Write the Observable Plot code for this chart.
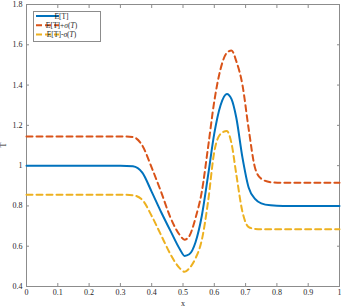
<!DOCTYPE html>
<html><head><meta charset="utf-8">
<script src="https://cdn.jsdelivr.net/npm/d3@7"></script>
<script src="https://cdn.jsdelivr.net/npm/@observablehq/plot@0.6"></script>
<style>body{margin:0;background:#fff;} #c{position:relative;width:341px;height:307px;}</style>
</head><body><div id="c"></div>
<script>
const xs    = [0, 0.30, 0.34, 0.37, 0.40, 0.43, 0.46, 0.49, 0.505, 0.52, 0.54, 0.56, 0.58, 0.60, 0.62, 0.64, 0.655, 0.67, 0.69, 0.71, 0.73, 0.75, 0.78, 0.82, 1.0];
const mean  = [1.0, 1.0, 0.997, 0.965, 0.87, 0.77, 0.676, 0.585, 0.552, 0.56, 0.62, 0.75, 0.95, 1.16, 1.30, 1.356, 1.33, 1.24, 1.04, 0.89, 0.835, 0.813, 0.803, 0.80, 0.80];
const upper = [1.145, 1.145, 1.142, 1.10, 0.99, 0.87, 0.742, 0.655, 0.632, 0.65, 0.74, 0.87, 1.09, 1.32, 1.48, 1.56, 1.572, 1.52, 1.40, 1.18, 0.99, 0.935, 0.918, 0.915, 0.915];
const lower = [0.856, 0.856, 0.853, 0.83, 0.75, 0.655, 0.56, 0.49, 0.473, 0.49, 0.54, 0.63, 0.82, 1.07, 1.157, 1.172, 1.11, 0.96, 0.77, 0.695, 0.686, 0.684, 0.684, 0.684, 0.684];
const xTicks = [0, 0.1, 0.2, 0.3, 0.4, 0.5, 0.6, 0.7, 0.8, 0.9, 1];
const yTicks = [0.4, 0.6, 0.8, 1, 1.2, 1.4, 1.6, 1.8];
const seriesNames = ["E[T]", "E[T]+σ(T)", "E[T]-σ(T)"];
const colors = ["#0072BD", "#D95319", "#EDB120"];

const toRows = vals => xs.map((x, i) => ({x, y: vals[i]}));
const fmt = d => d === 0 ? "0" : d === 1 ? "1" : String(d);
const axisColor = "#8c8c8c";
const font = "Liberation Serif, DejaVu Serif, serif";

const chart = Plot.plot({
  width: 341, height: 307,
  marginLeft: 26, marginRight: 2, marginTop: 4, marginBottom: 21,
  style: {fontFamily: font, fontSize: "8px", color: "#262626", background: "#fff"},
  x: {domain: [0, 1], label: null},
  y: {domain: [0.4, 1.8], label: null},
  marks: [
    Plot.frame({stroke: axisColor, strokeWidth: 1}),
    Plot.axisX({anchor: "bottom", ticks: xTicks, tickSize: -3, tickPadding: 6, tickFormat: fmt, stroke: axisColor, label: null}),
    Plot.axisX({anchor: "top", ticks: xTicks, tickSize: -3, tickFormat: () => "", stroke: axisColor, label: null}),
    Plot.axisY({anchor: "left", ticks: yTicks, tickSize: -3, tickPadding: 7, tickFormat: fmt, stroke: axisColor, label: null}),
    Plot.axisY({anchor: "right", ticks: yTicks, tickSize: -3, tickFormat: () => "", stroke: axisColor, label: null}),
    Plot.line(toRows(upper), {x: "x", y: "y", stroke: colors[1], strokeWidth: 2, strokeDasharray: "6,4", curve: "monotone-x"}),
    Plot.line(toRows(lower), {x: "x", y: "y", stroke: colors[2], strokeWidth: 2, strokeDasharray: "6,4", curve: "monotone-x"}),
    Plot.line(toRows(mean), {x: "x", y: "y", stroke: colors[0], strokeWidth: 2, curve: "monotone-x"})
  ]
});
document.getElementById("c").appendChild(chart);

const svg = d3.select(chart);
svg.append("text").attr("x", 183).attr("y", 305.5).attr("text-anchor", "middle")
  .style("font-family", font).style("font-size", "8px").attr("fill", "#262626").text("x");
svg.append("text").attr("transform", "translate(6,145) rotate(-90)").attr("text-anchor", "middle")
  .style("font-family", font).style("font-size", "8px").attr("fill", "#262626").text("T");

const lg = svg.append("g");
lg.append("rect").attr("x", 33.5).attr("y", 11.5).attr("width", 67).attr("height", 30)
  .attr("fill", "#fff").attr("stroke", axisColor).attr("stroke-width", 1);
const rowsY = [16, 25.3, 34.5];
seriesNames.forEach((name, i) => {
  lg.append("line").attr("x1", 36).attr("x2", 59).attr("y1", rowsY[i]).attr("y2", rowsY[i])
    .attr("stroke", colors[i]).attr("stroke-width", 2).attr("stroke-dasharray", i ? "6,3" : null);
  const t = lg.append("text").attr("x", 61.5).attr("y", rowsY[i] + 2.5)
    .style("font-family", font).style("font-size", "7.5px").attr("fill", "#262626");
  if (i === 0) t.text("E[T]");
  else {
    t.append("tspan").text("E[T]" + (i === 1 ? "+" : "-"));
    t.append("tspan").attr("font-style", "italic").text("σ");
    t.append("tspan").text("(");
    t.append("tspan").attr("font-style", "italic").text("T");
    t.append("tspan").text(")");
  }
});
</script></body></html>
